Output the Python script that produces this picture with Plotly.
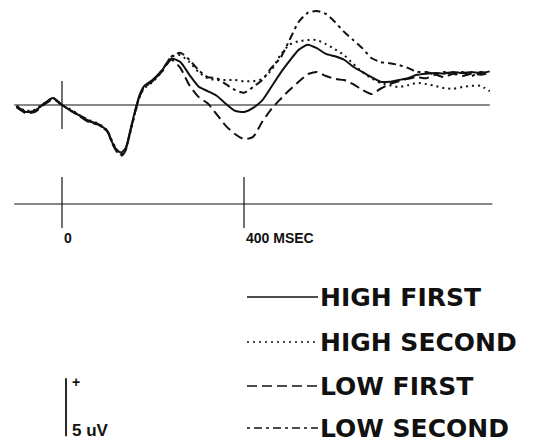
import plotly.graph_objects as go

# Grand-average ERP waveforms, time in ms relative to word onset, amplitude in microvolts
time_ms = [-100, -80, -60, -40, -20, 0, 20, 40, 60, 80, 100, 110, 120, 130, 140, 150, 160, 170,
           180, 200, 220, 240, 260, 280, 300, 320, 340, 360, 380, 400, 420, 440, 460, 480, 500,
           520, 540, 560, 580, 600, 620, 640, 660, 680, 700, 720, 740, 760, 780, 800, 820, 840,
           860, 880, 900, 920, 940]

high_first = [-0.1, -0.6, -0.5, 0.1, 0.6, 0.0, -0.5, -0.95, -1.4, -1.65, -2.25, -3.2, -3.9, -4.1,
              -3.7, -2.2, -0.6, 0.8, 1.6, 2.2, 3.0, 4.0, 3.7, 2.6, 1.6, 1.2, 0.8, 0.1, -0.5, -0.6,
              -0.25, 0.4, 1.55, 2.75, 3.8, 4.75, 5.2, 4.9, 4.4, 4.2, 3.9, 3.3, 2.85, 2.4, 2.0, 2.0,
              2.15, 2.3, 2.6, 2.7, 2.75, 2.7, 2.85, 2.75, 2.85, 2.75, 2.9]

high_second = [-0.1, -0.5, -0.4, 0.1, 0.6, 0.0, -0.4, -0.9, -1.3, -1.6, -2.2, -3.1, -3.8, -4.2,
               -3.8, -2.4, -0.8, 0.6, 1.4, 2.0, 2.9, 4.15, 4.3, 3.7, 2.85, 2.3, 2.15, 2.15, 2.15,
               2.05, 2.05, 2.25, 3.0, 4.3, 5.2, 5.5, 5.6, 5.6, 5.25, 4.8, 4.3, 3.55, 2.85, 2.3, 1.9,
               1.7, 1.55, 1.7, 1.9, 1.8, 1.65, 1.45, 1.4, 1.55, 1.65, 1.65, 1.2]

low_first = [-0.2, -0.7, -0.6, 0.0, 0.5, 0.0, -0.5, -1.0, -1.5, -1.7, -2.3, -3.3, -4.0, -4.4,
             -3.9, -2.3, -0.7, 0.7, 1.5, 2.1, 2.9, 3.9, 3.2, 1.7, 0.7, 0.15, -0.8, -1.8, -2.5,
             -2.95, -2.75, -1.45, -0.35, 0.5, 1.3, 2.0, 2.65, 2.85, 2.5, 2.25, 2.15, 1.8, 1.3,
             0.95, 1.4, 1.8, 2.05, 2.25, 2.4, 2.3, 2.6, 2.4, 2.7, 2.5, 2.7, 2.6, 2.75]

low_second = [-0.1, -0.6, -0.5, 0.1, 0.6, 0.0, -0.5, -0.9, -1.4, -1.7, -2.3, -3.2, -3.9, -4.3,
              -3.8, -2.3, -0.7, 0.7, 1.5, 2.1, 3.0, 4.15, 4.5, 3.9, 3.0, 2.4, 2.3, 1.8, 1.3, 1.05,
              1.55, 2.15, 3.2, 4.05, 5.6, 7.15, 7.95, 8.1, 7.85, 7.15, 6.3, 5.6, 4.9, 4.05, 3.7,
              3.6, 3.45, 3.2, 2.85, 2.85, 2.65, 2.85, 2.6, 2.85, 2.5, 2.85, 2.65]

condition_names = ["HIGH FIRST", "HIGH SECOND", "LOW FIRST", "LOW SECOND"]
condition_values = [high_first, high_second, low_first, low_second]
condition_dashes = ["solid", "2px,4px", "10px,5px", "3px,4px,8px,4px"]

time_tick_values = [0, 400]
time_tick_labels = ["0", "400 MSEC"]
scale_bar_uv = 5

INK = "#111111"
W, H = 540, 442
LABEL_FONT = "Liberation Sans, Arial, sans-serif"
KEY_FONT = "DejaVu Sans, Verdana, sans-serif"

# pixel-aligned data ranges: 0.455 px per ms, 11.6 px per microvolt
X_RANGE = [-136.26, 1050.55]
Y_RANGE = [-29.05, 9.05]


def py(pix):
    """Vertical pixel position -> paper fraction."""
    return 1 - pix / H


def px(pix):
    """Horizontal pixel position -> paper fraction."""
    return pix / W


fig = go.Figure()

for name, vals, dash in zip(condition_names, condition_values, condition_dashes):
    fig.add_trace(go.Scatter(
        x=time_ms, y=vals, mode="lines", name=name,
        line=dict(color=INK, width=2, dash=dash, shape="spline", smoothing=0.6),
        showlegend=False, hoverinfo="skip",
    ))

shapes = []
# zero-amplitude baseline and stimulus-onset marker
shapes.append(dict(type="line", xref="x", yref="y", x0=-105, x1=940, y0=0, y1=0,
                   line=dict(color=INK, width=1.2)))
shapes.append(dict(type="line", xref="x", yref="y", x0=0, x1=0, y0=-2.07, y1=2.07,
                   line=dict(color=INK, width=1.2)))

# separate time axis below the waveforms
axis_y = py(204)
shapes.append(dict(type="line", xref="x", yref="paper", x0=-105, x1=946, y0=axis_y, y1=axis_y,
                   line=dict(color=INK, width=1.2)))
for t in time_tick_values:
    shapes.append(dict(type="line", xref="x", yref="paper", x0=t, x1=t, y0=py(228), y1=py(177),
                       line=dict(color=INK, width=1.2)))

annotations = []
for t, lab in zip(time_tick_values, time_tick_labels):
    annotations.append(dict(x=t, y=py(238), xref="x", yref="paper", text=f"<b>{lab}</b>",
                            showarrow=False, xanchor="left", yanchor="middle", xshift=0,
                            font=dict(family=LABEL_FONT, size=14, color=INK)))

# amplitude calibration bar (positive up)
shapes.append(dict(type="line", xref="paper", yref="y", x0=px(66), x1=px(66),
                   y0=Y_RANGE[0] + 0.5, y1=Y_RANGE[0] + 0.5 + scale_bar_uv,
                   line=dict(color=INK, width=1.8)))
annotations.append(dict(x=px(70), y=py(382), xref="paper", yref="paper", text="<b>+</b>",
                        showarrow=False, xanchor="left", yanchor="middle",
                        font=dict(family=LABEL_FONT, size=14, color=INK)))
annotations.append(dict(x=px(70), y=py(430), xref="paper", yref="paper",
                        text=f"<b>{scale_bar_uv} uV</b>", showarrow=False, xanchor="left",
                        yanchor="middle",
                        font=dict(family=LABEL_FONT, size=17, color=INK)))

# line-style key
key_rows = [297, 342, 386, 428]
for name, dash, row in zip(condition_names, condition_dashes, key_rows):
    shapes.append(dict(type="line", xref="paper", yref="paper", x0=px(247), x1=px(318),
                       y0=py(row), y1=py(row), line=dict(color=INK, width=1.5, dash=dash)))
    annotations.append(dict(x=px(318), y=py(row), xref="paper", yref="paper",
                            text=f"<b>{name}</b>", showarrow=False, xanchor="left",
                            yanchor="middle",
                            font=dict(family=KEY_FONT, size=25, color=INK)))

fig.update_layout(
    width=W, height=H, autosize=False,
    margin=dict(l=0, r=0, t=0, b=0),
    paper_bgcolor="white", plot_bgcolor="white",
    xaxis=dict(range=X_RANGE, visible=False, fixedrange=True),
    yaxis=dict(range=Y_RANGE, visible=False, fixedrange=True),
    shapes=shapes, annotations=annotations,
)

fig.write_html("out.html")
